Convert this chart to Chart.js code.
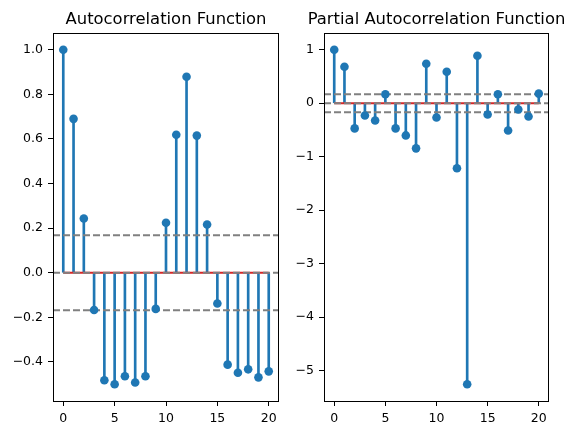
<!DOCTYPE html>
<html>
<head>
<meta charset="utf-8">
<script src="https://cdn.jsdelivr.net/npm/chart.js@4.4.1/dist/chart.umd.min.js"></script>
<style>
  html, body { margin: 0; padding: 0; background: #fff; }
  body { width: 576px; height: 435px; position: relative; overflow: hidden; }
  canvas { position: absolute; top: 0; }
</style>
</head>
<body>
<canvas id="acfChart" width="290" height="435" style="left:0px"></canvas>
<canvas id="pacfChart" width="286" height="435" style="left:290px"></canvas>
<script>
// ---- data ----
const lags = [0, 1, 2, 3, 4, 5, 6, 7, 8, 9, 10, 11, 12, 13, 14, 15, 16, 17, 18, 19, 20];
const acfValues = [1.0, 0.690, 0.243, -0.167, -0.482, -0.500, -0.464, -0.492, -0.464, -0.162,
                   0.224, 0.619, 0.879, 0.615, 0.216, -0.138, -0.412, -0.448, -0.433, -0.469, -0.442];
const pacfValues = [1.0, 0.682, -0.471, -0.230, -0.323, 0.167, -0.471, -0.602, -0.844, 0.738,
                    -0.267, 0.589, -1.216, -5.254, 0.887, -0.211, 0.167, -0.509, -0.118, -0.248, 0.180];
const confBound = 0.168;
const xTickValues = [0, 5, 10, 15, 20];
const acfYTicks = [-0.4, -0.2, 0.0, 0.2, 0.4, 0.6, 0.8, 1.0];
const pacfYTicks = [-5, -4, -3, -2, -1, 0, 1];
const titles = ["Autocorrelation Function", "Partial Autocorrelation Function"];

// ---- styles ----
const FONT = "'DejaVu Sans', sans-serif";
const BLUE = '#1f77b4';
const RED = '#d62728';
const GRAY = '#808080';

const minus = s => String(s).replace('-', '\u2212');

const axTitlePlugin = {
  id: 'axTitle',
  afterDraw(chart, args, opts) {
    const { ctx, chartArea } = chart;
    ctx.save();
    ctx.strokeStyle = '#000';
    ctx.lineWidth = 1;
    ctx.strokeRect(chartArea.left + 0.5, chartArea.top + 0.5,
                   chartArea.right - chartArea.left - 1, chartArea.bottom - chartArea.top);
    ctx.fillStyle = '#000';
    ctx.font = '16.4px ' + FONT;
    ctx.textAlign = 'center';
    ctx.textBaseline = 'alphabetic';
    ctx.fillText(opts.text, (chartArea.left + chartArea.right) / 2, chartArea.top - 9);
    ctx.restore();
  }
};

function makeChart(canvasId, values, yTicks, fmt, yAxisWidth, padRight, title) {
  const xMin = lags[0] - 0.05 * (lags[lags.length - 1] - lags[0]);
  const xMax = lags[lags.length - 1] + 0.05 * (lags[lags.length - 1] - lags[0]);
  const dMin = Math.min(...values, -confBound), dMax = Math.max(...values, confBound);
  const yMin = dMin - 0.05 * (dMax - dMin), yMax = dMax + 0.05 * (dMax - dMin);
  const pts = lags.map((x, i) => ({ x, y: values[i] }));
  const hline = y => [{ x: xMin, y }, { x: xMax, y }];
  const dashed = y => ({
    type: 'line', data: hline(y), borderColor: GRAY, borderWidth: 1.9,
    borderDash: [7, 3], pointRadius: 0, order: 1
  });
  return new Chart(document.getElementById(canvasId), {
    type: 'bar',
    data: {
      datasets: [
        { type: 'bar', data: pts, backgroundColor: BLUE, borderWidth: 0,
          barThickness: 2, grouped: false, order: 4 },
        { type: 'line', data: [{ x: lags[0], y: 0 }, { x: lags[lags.length - 1], y: 0 }],
          borderColor: RED, borderWidth: 1.9, pointRadius: 0, order: 3 },
        dashed(0), dashed(confBound), dashed(-confBound),
        { type: 'line', data: pts, showLine: false, pointRadius: 4.3,
          pointBackgroundColor: BLUE, pointBorderWidth: 0, order: 0 }
      ]
    },
    options: {
      responsive: false, animation: false, devicePixelRatio: 1,
      layout: { padding: { top: 33, right: padRight, bottom: 0, left: 0 } },
      plugins: { legend: { display: false }, tooltip: { enabled: false },
                 title: { display: false }, axTitle: { text: title } },
      scales: {
        x: {
          type: 'linear', offset: false, min: xMin, max: xMax,
          afterBuildTicks: s => { s.ticks = xTickValues.map(v => ({ value: v })); },
          afterFit: s => { s.height = 34; },
          border: { display: false },
          grid: { offset: false, drawOnChartArea: false, drawTicks: true, tickLength: 5,
                  tickColor: '#000', tickWidth: 1 },
          ticks: { color: '#000', font: { family: FONT, size: 12.5 }, padding: 5,
                   autoSkip: false, maxRotation: 0, callback: v => minus(v) }
        },
        y: {
          type: 'linear', min: yMin, max: yMax,
          afterBuildTicks: s => { s.ticks = yTicks.map(v => ({ value: v })); },
          afterFit: s => { s.width = yAxisWidth; },
          border: { display: false },
          grid: { offset: false, drawOnChartArea: false, drawTicks: true, tickLength: 5,
                  tickColor: '#000', tickWidth: 1 },
          ticks: { color: '#000', font: { family: FONT, size: 12.5 }, padding: 5,
                   autoSkip: false, callback: fmt }
        }
      }
    },
    plugins: [axTitlePlugin]
  });
}

makeChart('acfChart', acfValues, acfYTicks, v => minus(Number(v).toFixed(1)), 53, 11, titles[0]);
makeChart('pacfChart', pacfValues, pacfYTicks, v => minus(Math.round(v)), 34, 27, titles[1]);
</script>
</body>
</html>
